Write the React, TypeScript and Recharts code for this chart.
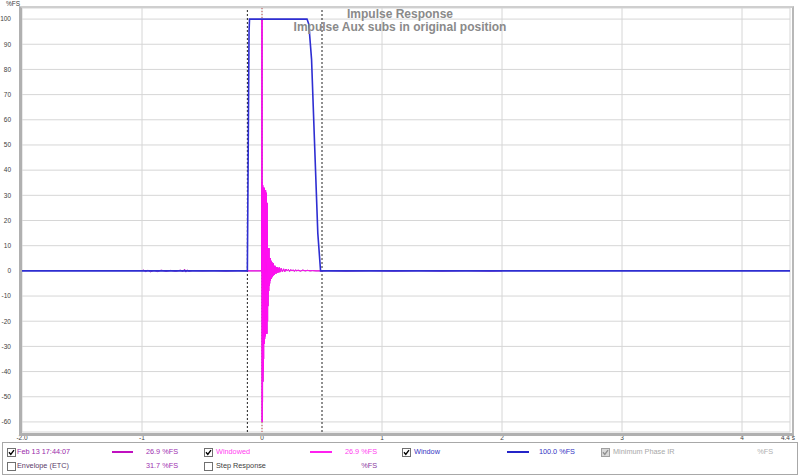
import React from 'react'
import { LineChart, Line, XAxis, YAxis, CartesianGrid, ReferenceLine } from 'recharts'

// axis ticks
const xTicks = [-2, -1, 0, 1, 2, 3, 4, 4.4]
const yTicks = [-60, -50, -40, -30, -20, -10, 0, 10, 20, 30, 40, 50, 60, 70, 80, 90, 100]

// original capture, small noise before the window
const preTime = [-1.0, -0.99, -0.97, -0.95, -0.93, -0.9, -0.87, -0.84, -0.8, -0.76, -0.72, -0.68, -0.66, -0.645, -0.635, -0.625, -0.61, -0.58, -0.5, -0.4, -0.3, -0.2, -0.13]
const preValue = [0, 0.4, -0.3, 0.3, -0.4, 0.2, -0.3, 0.3, -0.2, 0.2, -0.2, 0.3, -0.3, 0.7, -0.5, 0.4, -0.2, 0.1, 0, 0.1, -0.1, 0.1, 0]

// impulse inside the window (windowed == original here)
const mainTime = [
  -0.12, -0.01, -0.004, -0.002, 0, 0.0015, 0.003, 0.0045, 0.006, 0.0075, 0.009, 0.0105, 0.012, 0.0135, 0.015, 0.0165,
  0.018, 0.0195, 0.021, 0.0225, 0.024, 0.0255, 0.027, 0.0285, 0.03, 0.0315, 0.033, 0.0345, 0.036, 0.0375, 0.039, 0.0405,
  0.042, 0.0435, 0.045, 0.0465, 0.048, 0.0495, 0.051, 0.0525, 0.054, 0.056, 0.058, 0.06, 0.062, 0.064, 0.066, 0.068,
  0.07, 0.073, 0.076, 0.079, 0.082, 0.085, 0.088, 0.091, 0.094, 0.097, 0.1, 0.104, 0.108, 0.112, 0.116, 0.12,
  0.125, 0.13, 0.135, 0.14, 0.145, 0.15, 0.16, 0.17, 0.18, 0.19, 0.2, 0.21, 0.22, 0.23, 0.24, 0.25,
  0.26, 0.27, 0.28, 0.29, 0.3, 0.32, 0.34, 0.36, 0.38, 0.4, 0.42, 0.45, 0.5
]
const mainValue = [
  0, 0, 0.4, -0.5, 100, -60, 35, -52, 34, -44, 30, -40, 33, -35, 28, -29,
  33, -29, 24, -27, 30, -26, 22, -25, 32, -25, 20, -24, 31, -22, 18, -25,
  27, -18, 12, -20, 9, -14, 8, -9, 6, -8, 9, -6, 5, -5, 4, -4,
  5, -3, 4, -3, 3.5, -2.5, 2.5, -2, 3, -1.5, 2, -1.5, 2, -1, 1.5, -1,
  1.5, -0.8, 1.2, -0.6, 1.3, -0.5, 1, -0.4, 0.8, -0.3, 0.7, 0, 0.6, -0.2, 0.5, 0,
  0.4, -0.2, 0.4, 0, 0.3, -0.1, 0.3, 0, 0.2, 0, 0.1, 0, 0
]

// original capture, tail after the window
const postTime = [0.55, 0.7, 0.9, 1.1, 1.3, 1.5, 1.7, 1.9, 2.0]
const postValue = [0.1, -0.1, 0.1, -0.1, 0.1, -0.1, 0.1, -0.1, 0]

// window shape
const windowTime = [-2, -0.122, -0.116, -0.108, -0.104, 0.375, 0.39, 0.413, 0.44, 0.465, 0.488, 4.4]
const windowValue = [0, 0, 40, 95, 100, 100, 98, 84, 48, 15, 0, 0]

// window edges
const windowLeft = -0.122
const windowRight = 0.5

const zip = (t: number[], v: number[]) => t.map((x, i) => ({ t: x, v: v[i] }))

const originalData = [...zip(preTime, preValue), ...zip(mainTime, mainValue), ...zip(postTime, postValue)]
const windowedData = zip(mainTime, mainValue)
const windowData = zip(windowTime, windowValue)

const FONT = '"Liberation Sans", Arial, sans-serif'

const XTick = ({ x, y, payload }: any) => {
  const v = payload.value
  const label = v === -2 ? '-2.0' : v === 4.4 ? '4.4 s' : String(v)
  return (
    <text x={v === 4.4 ? x + 5 : x} y={439.5} textAnchor={v === 4.4 ? 'end' : 'middle'} fontSize={6.5} fill="#404040" fontFamily={FONT}>
      {label}
    </text>
  )
}

const YTick = ({ x, y, payload }: any) => (
  <text x={x - 3} y={y + 2.3} textAnchor="end" fontSize={6.5} fill="#404040" fontFamily={FONT}>
    {payload.value}
  </text>
)

const Box = ({ checked, disabled }: { checked: boolean; disabled?: boolean }) => (
  <svg width={9} height={9} style={{ display: 'block' }}>
    <rect x={0.5} y={0.5} width={8} height={8} fill={disabled ? '#d8d8d8' : '#fff'} stroke={disabled ? '#a0a0a0' : '#707070'} />
    {checked && (
      <path d="M2,4.3 L3.8,6.4 L7,2.2" fill="none" stroke={disabled ? '#909090' : '#000'} strokeWidth={1.4} />
    )}
  </svg>
)

const txt = (left: number, top: number, color: string, s: string, align: 'left' | 'right' = 'left') => (
  <div
    style={{
      position: 'absolute',
      top: top - 5,
      height: 10,
      lineHeight: '10px',
      fontSize: 7.3,
      fontFamily: FONT,
      color,
      whiteSpace: 'nowrap',
      ...(align === 'left' ? { left } : { right: 800 - left }),
    }}
  >
    {s}
  </div>
)

const box = (left: number, top: number, checked: boolean, disabled?: boolean) => (
  <div style={{ position: 'absolute', left, top: top - 4.5 }}>
    <Box checked={checked} disabled={disabled} />
  </div>
)

const seg = (left: number, top: number, width: number, color: string) => (
  <div style={{ position: 'absolute', left, top: top - 1, width, height: 2, background: color }} />
)

export default function App() {
  const r1 = 452
  const r2 = 466
  return (
    <div style={{ position: 'absolute', left: 0, top: 0, width: 800, height: 476, background: '#fff', overflow: 'hidden' }}>
      {/* legend panel */}
      <div style={{ position: 'absolute', left: 2, top: 442, width: 794, height: 31, border: '1px solid #a8a8a8', background: '#fff' }} />

      <LineChart width={800} height={476} margin={{ top: 8, right: 10, left: 0, bottom: 34 }} style={{ position: 'absolute', left: 0, top: 0 }}>
        <CartesianGrid stroke="#d6d6d6" strokeWidth={1} />
        <XAxis
          type="number"
          dataKey="t"
          domain={[-2, 4.4]}
          ticks={xTicks}
          allowDataOverflow
          height={10}
          axisLine={false}
          tickLine={false}
          tick={<XTick />}
          interval={0}
        />
        <YAxis
          type="number"
          domain={[-64, 104.4]}
          ticks={yTicks}
          allowDataOverflow
          width={22}
          axisLine={false}
          tickLine={false}
          tick={<YTick />}
          interval={0}
        />
        <ReferenceLine x={windowLeft} stroke="#202020" strokeDasharray="2 2" strokeWidth={1} />
        <ReferenceLine x={windowRight} stroke="#202020" strokeDasharray="2 2" strokeWidth={1} />
        <ReferenceLine x={0} stroke="#c05050" strokeDasharray="1 2" strokeWidth={1} />
        <Line data={originalData} dataKey="v" type="linear" stroke="#b020c0" strokeWidth={1} dot={false} isAnimationActive={false} />
        <Line data={windowedData} dataKey="v" type="linear" stroke="#ff10f0" strokeWidth={1} dot={false} isAnimationActive={false} />
        <Line data={windowData} dataKey="v" type="linear" stroke="#2e2ed2" strokeWidth={1.6} dot={false} isAnimationActive={false} />
      </LineChart>

      {/* plot frame */}
      <div
        style={{
          position: 'absolute',
          left: 19,
          top: 6,
          width: 770,
          height: 425,
          borderLeft: '3px solid #b0b0b0',
          borderBottom: '3px solid #b0b0b0',
          borderTop: '2px solid #cfcfcf',
          borderRight: '2px solid #b8b8b8',
          pointerEvents: 'none',
        }}
      />

      <div style={{ position: 'absolute', left: 6, top: 0, fontSize: 6.5, fontFamily: FONT, color: '#404040' }}>%FS</div>

      {/* titles */}
      <div style={{ position: 'absolute', left: 200, width: 400, top: 8, textAlign: 'center', fontFamily: FONT, fontWeight: 'bold', fontSize: 12, lineHeight: '13px', color: '#8a8a8a' }}>
        Impulse Response
        <br />
        Impulse Aux subs in original position
      </div>

      {box(7, r1, true)}
      {txt(17, r1, '#9a2aaa', 'Feb 13 17:44:07')}
      {seg(112, r1, 21, '#c010c0')}
      {txt(178, r1, '#a030b0', '26.9 %FS', 'right')}

      {box(204, r1, true)}
      {txt(216, r1, '#ff40f0', 'Windowed')}
      {seg(310, r1, 22, '#ff20f0')}
      {txt(377, r1, '#ff40f0', '26.9 %FS', 'right')}

      {box(402, r1, true)}
      {txt(414, r1, '#3434c4', 'Window')}
      {seg(507, r1, 22, '#2424c8')}
      {txt(575, r1, '#3434c4', '100.0 %FS', 'right')}

      {box(601, r1, true, true)}
      {txt(613, r1, '#a8a8a8', 'Minimum Phase IR')}
      {txt(773, r1, '#b0b0b0', '%FS', 'right')}

      {box(7, r2, false)}
      {txt(17, r2, '#5a3a6a', 'Envelope (ETC)')}
      {txt(178, r2, '#a030b0', '31.7 %FS', 'right')}

      {box(204, r2, false)}
      {txt(216, r2, '#404040', 'Step Response')}
      {txt(377, r2, '#8a3aa0', '%FS', 'right')}
    </div>
  )
}
